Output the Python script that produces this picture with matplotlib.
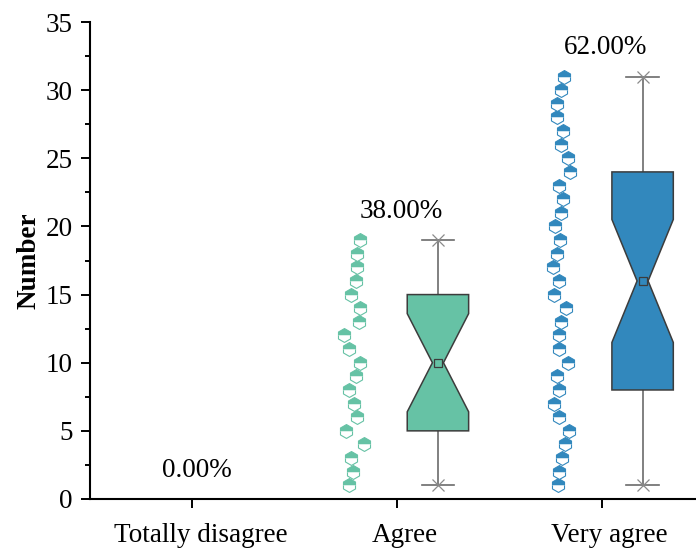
import numpy as np
import matplotlib.pyplot as plt
import matplotlib.transforms as mtransforms
from matplotlib.patches import Polygon

plt.rcParams["font.family"] = ["Liberation Serif", "DejaVu Serif"]
plt.rcParams["font.size"] = 19.5

categories = ["Totally disagree", "Agree", "Very agree"]
colors = [None, "#66C2A5", "#3288BD"]

# responses per group (one point per respondent)
disagree_values = []
agree_values = [1, 2, 3, 4, 5, 6, 7, 8, 9, 10, 11, 12, 13, 14, 15, 16, 17, 18, 19]
very_agree_values = [1, 2, 3, 4, 5, 6, 7, 8, 9, 10, 11, 12, 13, 14, 15, 16,
                     17, 18, 19, 20, 21, 22, 23, 24, 25, 26, 27, 28, 29, 30, 31]

# horizontal scatter of the raw points, left of each category
agree_jitter = [-0.234, -0.213, -0.225, -0.161, -0.248, -0.194, -0.209, -0.236, -0.199, -0.179,
                -0.234, -0.257, -0.184, -0.179, -0.223, -0.199, -0.195, -0.195, -0.181]
very_agree_jitter = [-0.213, -0.210, -0.195, -0.178, -0.160, -0.209, -0.233, -0.210, -0.217, -0.166,
                     -0.210, -0.209, -0.197, -0.176, -0.232, -0.207, -0.236, -0.220, -0.202, -0.227,
                     -0.199, -0.188, -0.207, -0.153, -0.163, -0.197, -0.191, -0.220, -0.220, -0.199,
                     -0.184]

groups = [disagree_values, agree_values, very_agree_values]
jitters = [[], agree_jitter, very_agree_jitter]

BOX_SHIFT = 0.2
BOX_HALF = 0.15
NOTCH_RATIO = 0.18
CAP_HALF = 0.08


def notched_box(ax, pos, values, color):
    vals = np.asarray(values, dtype=float)
    q1, med, q3 = np.percentile(vals, [25, 50, 75], method="weibull")
    notch = 1.57 * (q3 - q1) / np.sqrt(len(vals))
    lo, hi = vals.min(), vals.max()
    c = pos + BOX_SHIFT

    # whisker and caps
    ax.plot([c, c], [lo, hi], color="#6b6b6b", lw=1.2, zorder=1)
    for v in (lo, hi):
        ax.plot([c - CAP_HALF, c + CAP_HALF], [v, v], color="#6b6b6b", lw=1.2, zorder=1)
    ax.plot([c, c], [lo, hi], ls="none", marker="x", ms=8, mew=0.9,
            color="#8a8a8a", zorder=2)

    w, nw = BOX_HALF, BOX_HALF * NOTCH_RATIO
    verts = [(c - w, q1), (c + w, q1), (c + w, med - notch), (c + nw, med),
             (c + w, med + notch), (c + w, q3), (c - w, q3), (c - w, med + notch),
             (c - nw, med), (c - w, med - notch)]
    ax.add_patch(Polygon(verts, closed=True, facecolor=color, edgecolor="#3c3c3c",
                         lw=1.1, zorder=3))
    ax.plot(c, vals.mean(), marker="s", ms=6, mfc="none", mec="#3c3c3c", mew=0.9, zorder=4)


fig = plt.figure(figsize=(6.96, 5.51), dpi=100)
ax = fig.add_axes([90 / 696, 52 / 551, 614 / 696, 477 / 551])

total = sum(len(g) for g in groups)
for i, (values, jit, color) in enumerate(zip(groups, jitters, colors)):
    pos = i + 1
    if values:
        ax.plot(np.array(jit) + pos, values, ls="none", marker="h", ms=10,
                fillstyle="top", color=color, markerfacecoloralt="white",
                mec=color, mew=0.8, zorder=2)
        notched_box(ax, pos, values, color)
    top = max(values) if values else 0
    ax.text(pos + 0.02, top + 2.1, f"{len(values) / total * 100:.2f}%",
            ha="center", va="center")

ax.set_xlim(0.5, 3.5)
ax.set_ylim(0, 35)
ax.set_xticks([1, 2, 3])
ax.set_xticklabels(categories)
ax.set_yticks(np.arange(0, 36, 5))
ax.set_yticks(np.arange(2.5, 35, 5), minor=True)
ax.set_ylabel("Number", fontweight="bold", labelpad=3)

for side in ("top", "right"):
    ax.spines[side].set_visible(False)
for side in ("left", "bottom"):
    ax.spines[side].set_linewidth(1.5)
ax.tick_params(which="major", length=6.5, width=1.4, direction="out", pad=6)
ax.tick_params(which="minor", length=3.5, width=1.4, direction="out")
ax.tick_params(axis="x", pad=11)

# category names sit a little right of their ticks
shift = mtransforms.ScaledTranslation(8 / 100, 0, fig.dpi_scale_trans)
for lbl in ax.get_xticklabels():
    lbl.set_transform(lbl.get_transform() + shift)

fig.savefig("out.png", dpi=100)
